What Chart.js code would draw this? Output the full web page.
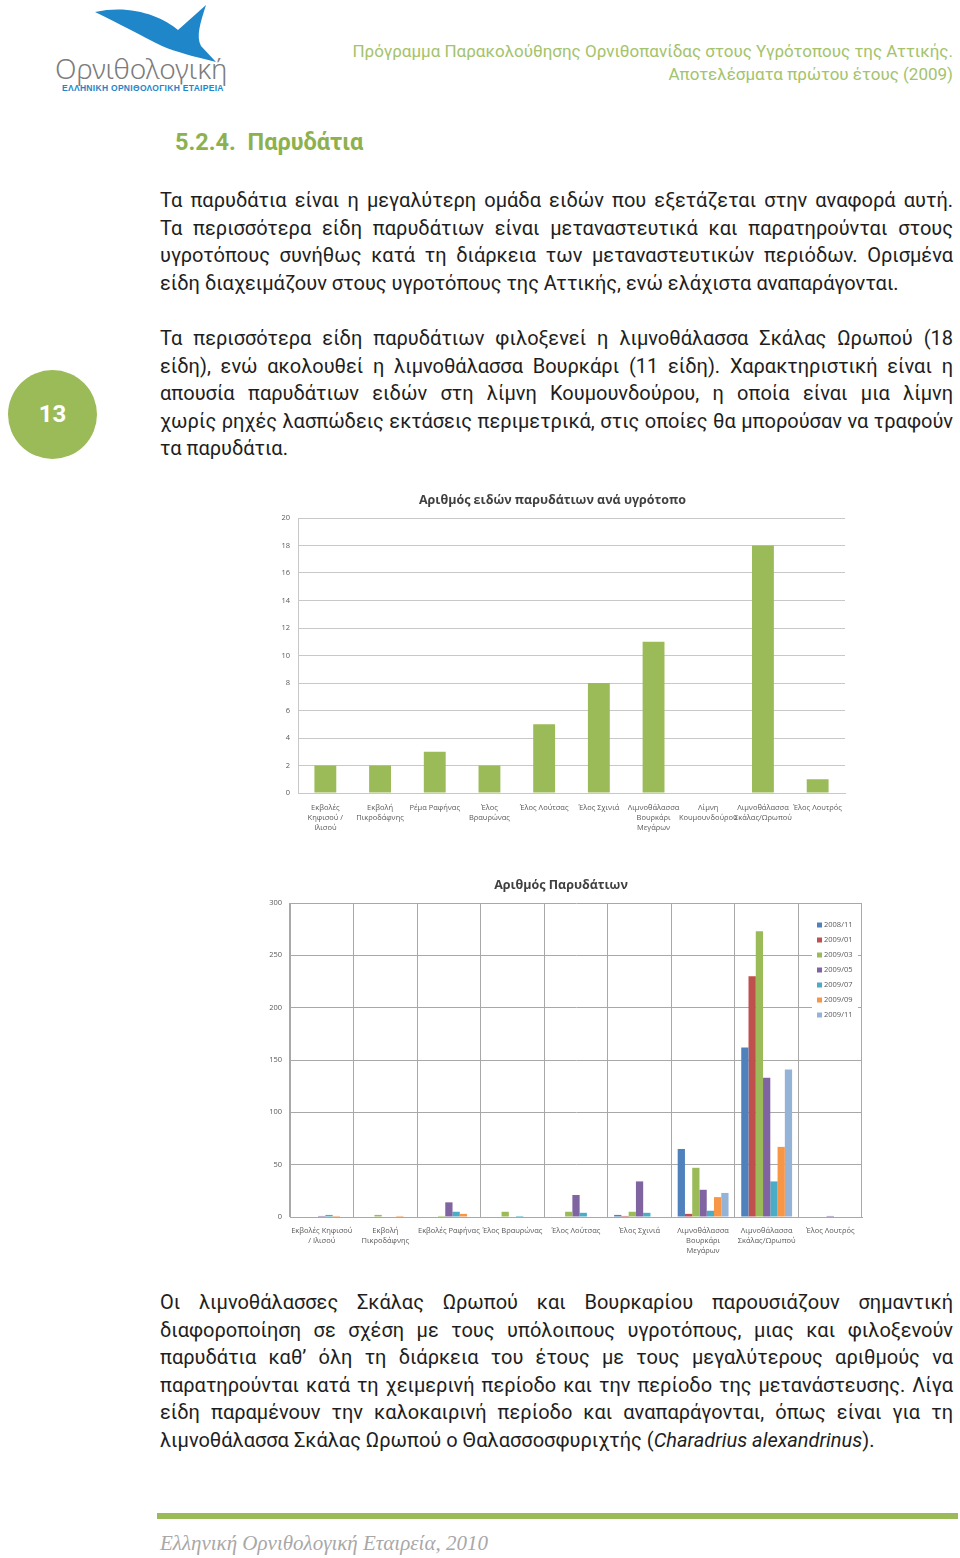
<!DOCTYPE html>
<html>
<head>
<meta charset="utf-8">
<script src="https://cdn.jsdelivr.net/npm/chart.js@4.4.0/dist/chart.umd.min.js"></script>
<style>
body { margin:0; width:960px; height:1558px; position:relative; background:#fff; font-family: Roboto, "Open Sans", sans-serif; color:#1e1e1e; overflow:hidden; }
.abs { position:absolute; }
.hdr { position:absolute; right:7px; font-size:17px; color:#a4c36c; white-space:nowrap; }
.para { position:absolute; left:160px; width:793px; font-size:20px; line-height:27.6px; }
.para div { text-align:justify; text-align-last:justify; white-space:nowrap; }
.para div.last { text-align-last:left; }
</style>
</head>
<body>

<!-- logo -->
<svg class="abs" style="left:50px;top:0" width="185" height="100">
  <path d="M45,12 C80,4 112,16 128,30 L156,5 C150,24 146,36 151,46 L166,62 C142,56 126,52 112,46 C92,36 70,24 45,12 Z" fill="#1f86c9"/>
</svg>
<div class="abs" style="left:55px;top:49px;font-family:'Noto Sans';font-weight:300;font-size:28px;color:#7c7c7c;">Ορνιθολογική</div>
<div class="abs" style="left:62px;top:83px;font-family:'Liberation Sans';font-weight:bold;font-size:8.5px;color:#1f86c9;letter-spacing:0.3px;">ΕΛΛΗΝΙΚΗ ΟΡΝΙΘΟΛΟΓΙΚΗ ΕΤΑΙΡΕΙΑ</div>

<div class="hdr" style="top:41px;">Πρόγραμμα Παρακολούθησης Ορνιθοπανίδας στους Υγρότοπους της Αττικής.</div>
<div class="hdr" style="top:64px;">Αποτελέσματα πρώτου έτους (2009)</div>

<div class="abs" style="left:175px;top:128px;font-size:23.5px;font-weight:bold;color:#8db14d;">5.2.4.&nbsp; Παρυδάτια</div>

<div class="para" style="top:187px;">
<div>Τα παρυδάτια είναι η μεγαλύτερη ομάδα ειδών που εξετάζεται στην αναφορά αυτή.</div>
<div>Τα περισσότερα είδη παρυδάτιων είναι μεταναστευτικά και παρατηρούνται στους</div>
<div>υγροτόπους συνήθως κατά τη διάρκεια των μεταναστευτικών περιόδων. Ορισμένα</div>
<div class="last">είδη διαχειμάζουν στους υγροτόπους της Αττικής, ενώ ελάχιστα αναπαράγονται.</div>
</div>

<div class="abs" style="left:8px;top:370px;width:89px;height:89px;border-radius:50%;background:#9bbb59;color:#fff;font-weight:bold;font-size:24px;line-height:89px;text-align:center;">13</div>

<div class="para" style="top:325px;">
<div>Τα περισσότερα είδη παρυδάτιων φιλοξενεί η λιμνοθάλασσα Σκάλας Ωρωπού (18</div>
<div>είδη), ενώ ακολουθεί η λιμνοθάλασσα Βουρκάρι (11 είδη). Χαρακτηριστική είναι η</div>
<div>απουσία παρυδάτιων ειδών στη λίμνη Κουμουνδούρου, η οποία είναι μια λίμνη</div>
<div>χωρίς ρηχές λασπώδεις εκτάσεις περιμετρικά, στις οποίες θα μπορούσαν να τραφούν</div>
<div class="last">τα παρυδάτια.</div>
</div>

<div class="abs" style="left:260px;top:485px;width:600px;height:360px;"><canvas id="chart1"></canvas></div>
<div class="abs" style="left:260px;top:870px;width:610px;height:395px;"><canvas id="chart2"></canvas></div>

<div class="para" style="top:1289px;">
<div>Οι λιμνοθάλασσες Σκάλας Ωρωπού και Βουρκαρίου παρουσιάζουν σημαντική</div>
<div>διαφοροποίηση σε σχέση με τους υπόλοιπους υγροτόπους, μιας και φιλοξενούν</div>
<div>παρυδάτια καθ’ όλη τη διάρκεια του έτους με τους μεγαλύτερους αριθμούς να</div>
<div>παρατηρούνται κατά τη χειμερινή περίοδο και την περίοδο της μετανάστευσης. Λίγα</div>
<div>είδη παραμένουν την καλοκαιρινή περίοδο και αναπαράγονται, όπως είναι για τη</div>
<div class="last">λιμνοθάλασσα Σκάλας Ωρωπού ο Θαλασσοσφυριχτής (<i>Charadrius alexandrinus</i>).</div>
</div>

<div class="abs" style="left:157px;top:1513px;width:801px;height:6px;background:#9bbb59;"></div>
<div class="abs" style="left:160px;top:1531px;font-family:'Liberation Serif';font-style:italic;font-size:21px;color:#a8a8a8;">Ελληνική Ορνιθολογική Εταιρεία, 2010</div>

<script>
// chart 1 - species per wetland
const wetlands1 = [
    ['Εκβολές', 'Κηφισού /', 'Ιλισού'],
    ['Εκβολή', 'Πικροδάφνης'],
    'Ρέμα Ραφήνας',
    ['Έλος', 'Βραυρώνας'],
    'Έλος Λούτσας',
    'Έλος Σχινιά',
    ['Λιμνοθάλασσα', 'Βουρκάρι', 'Μεγάρων'],
    ['Λίμνη', 'Κουμουνδούρου'],
    ['Λιμνοθάλασσα', 'Σκάλας/Ωρωπού'],
    'Έλος Λουτρός'
];
const speciesCount = [2, 2, 3, 2, 5, 8, 11, 0, 18, 1];
const ticks1 = [0, 2, 4, 6, 8, 10, 12, 14, 16, 18, 20];

// chart 2 - number of waders per count
const wetlands2 = [
    ['Εκβολές Κηφισού', '/ Ιλισού'],
    ['Εκβολή', 'Πικροδάφνης'],
    'Εκβολές Ραφήνας',
    'Έλος Βραυρώνας',
    'Έλος Λούτσας',
    'Έλος Σχινιά',
    ['Λιμνοθάλασσα', 'Βουρκάρι', 'Μεγάρων'],
    ['Λιμνοθάλασσα', 'Σκάλας/Ωρωπού'],
    'Έλος Λουτρός'
];
const periods = ['2008/11', '2009/01', '2009/03', '2009/05', '2009/07', '2009/09', '2009/11'];
const nov08 = [0, 0, 0, 0, 0, 2, 65, 162, 0];
const jan09 = [0, 0, 0, 0, 0, 1, 3, 230, 0];
const mar09 = [0, 2, 1, 5, 5, 5, 47, 273, 0];
const may09 = [1, 0, 14, 0, 21, 34, 26, 133, 1];
const jul09 = [2, 0, 5, 1, 4, 4, 6, 34, 0];
const sep09 = [1, 1, 3, 0, 0, 0, 19, 67, 0];
const nov09 = [0, 0, 0, 0, 0, 0, 23, 141, 0];
const ticks2 = [0, 50, 100, 150, 200, 250, 300];
const colors2 = ['#4f81bd', '#c0504d', '#9bbb59', '#8064a2', '#4bacc6', '#f79646', '#95b3d7'];

Chart.defaults.font.family = '"Open Sans", sans-serif';
Chart.defaults.color = '#595959';
Chart.defaults.animation = false;

const data1 = {
    labels: wetlands1,
    datasets: [{
        label: 'Είδη',
        data: speciesCount,
        backgroundColor: '#9bbb59',
        barPercentage: 0.4,
        categoryPercentage: 1.0
    }]
};

const config1 = {
    type: 'bar',
    data: data1,
    options: {
        responsive: true,
        maintainAspectRatio: false,
        layout: { padding: { left: 0, right: 15, top: 0, bottom: 0 } },
        plugins: {
            legend: { display: false },
            tooltip: { enabled: false },
            title: {
                display: true,
                text: 'Αριθμός ειδών παρυδάτιων ανά υγρότοπο',
                font: { size: 12.5, weight: 'bold' },
                color: '#404040',
                padding: { top: 8, bottom: 10 }
            }
        },
        scales: {
            x: {
                grid: { display: false },
                border: { display: true, color: '#c8c8c8' },
                ticks: { font: { size: 7.5, lineHeight: 1.3 }, maxRotation: 0, autoSkip: false, padding: 2 },
                afterFit: (s) => { s.height = 52; }
            },
            y: {
                min: 0, max: 20,
                afterBuildTicks: (s) => { s.ticks = ticks1.map(v => ({ value: v })); },
                grid: { color: '#c8c8c8', drawTicks: false },
                border: { color: '#c8c8c8' },
                ticks: { font: { size: 7.5 }, padding: 8 },
                afterFit: (s) => { s.width = 38; }
            }
        }
    }
};

var chart1 = new Chart(document.getElementById('chart1'), config1);

const seriesValues = [nov08, jan09, mar09, may09, jul09, sep09, nov09];

const data2 = {
    labels: wetlands2,
    datasets: periods.map((p, i) => ({
        label: p,
        data: seriesValues[i],
        backgroundColor: colors2[i],
        barPercentage: 1.0,
        categoryPercentage: 0.8
    }))
};

// legend drawn over the plot area, like the excel one
const boxLegend = {
    id: 'boxLegend',
    afterDraw(chart) {
        const ctx = chart.ctx;
        const area = chart.chartArea;
        const x0 = area.right - 50, y0 = area.top + 13;
        ctx.save();
        ctx.fillStyle = '#ffffff';
        ctx.fillRect(x0, y0, 46, 106);
        ctx.font = '7.5px "Open Sans", sans-serif';
        ctx.textBaseline = 'middle';
        chart.data.datasets.forEach((ds, i) => {
            const y = y0 + 9 + i * 15;
            ctx.fillStyle = ds.backgroundColor;
            ctx.fillRect(x0 + 5, y - 2.5, 5, 5);
            ctx.fillStyle = '#595959';
            ctx.fillText(ds.label, x0 + 12, y);
        });
        ctx.restore();
    }
};

const config2 = {
    type: 'bar',
    data: data2,
    plugins: [boxLegend],
    options: {
        responsive: true,
        maintainAspectRatio: false,
        layout: { padding: { left: 0, right: 8, top: 0, bottom: 0 } },
        plugins: {
            legend: { display: false },
            tooltip: { enabled: false },
            title: {
                display: true,
                text: 'Αριθμός Παρυδάτιων',
                font: { size: 12.5, weight: 'bold' },
                color: '#404040',
                padding: { top: 8, bottom: 10 }
            }
        },
        scales: {
            x: {
                grid: { color: '#a8a8a8', drawTicks: false, offset: true },
                border: { color: '#a8a8a8' },
                ticks: { font: { size: 7.5, lineHeight: 1.3 }, maxRotation: 0, autoSkip: false, padding: 9 },
                afterFit: (s) => { s.height = 48; }
            },
            y: {
                min: 0, max: 300,
                afterBuildTicks: (s) => { s.ticks = ticks2.map(v => ({ value: v })); },
                grid: { color: '#a8a8a8', drawTicks: false },
                border: { color: '#a8a8a8' },
                ticks: { font: { size: 7.5 }, padding: 8 },
                afterFit: (s) => { s.width = 30; }
            }
        }
    }
};

var chart2 = new Chart(document.getElementById('chart2'), config2);
</script>
</body>
</html>
